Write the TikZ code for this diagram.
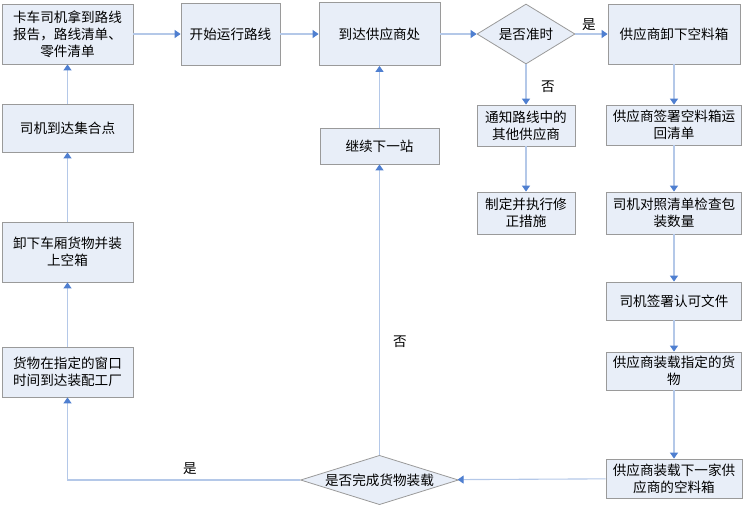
\documentclass[tikz,border=0pt]{standalone}
\usepackage{fontspec}
\setmainfont{Noto Sans CJK SC}
\usetikzlibrary{shapes.geometric, arrows.meta}
\definecolor{boxfill}{HTML}{E8EEF8}
\definecolor{boxline}{HTML}{9A9A9A}
\definecolor{flowline}{HTML}{B4C8E8}
\definecolor{tipblue}{HTML}{4F7FD0}

\begin{document}
\begin{tikzpicture}[
    x=1pt, y=-1pt,
    box/.style={rectangle, draw=boxline, fill=boxfill, align=center, inner sep=1pt, line width=0.8pt},
    decision/.style={diamond, draw=boxline, fill=boxfill, inner sep=1pt, line width=0.8pt},
    flow/.style={draw=flowline, line width=1.1pt, -{Triangle[width=8pt, length=6pt, color=tipblue]}},
    every node/.style={font=\fontsize{13.6}{17}\selectfont, text=black}
  ]
  \useasboundingbox (0,0) rectangle (744,507);

  % --- Left column ---
  \node[box, minimum width=131pt, minimum height=60pt] (truck) at (67.5,34) {卡车司机拿到路线\\报告，路线清单、\\零件清单};
  \node[box, minimum width=131pt, minimum height=48pt] (gather) at (67.5,128) {司机到达集合点};
  \node[box, minimum width=131pt, minimum height=60pt] (unloadtruck) at (67.5,252) {卸下车厢货物并装\\上空箱};
  \node[box, minimum width=131pt, minimum height=50pt] (factory) at (67.5,372) {货物在指定的窗口\\时间到达装配工厂};

  % --- Top row ---
  \node[box, minimum width=99pt, minimum height=62pt] (start) at (230.5,34) {开始运行路线};
  \node[box, minimum width=121pt, minimum height=63pt] (arrive) at (379.5,34) {到达供应商处};
  \node[decision, minimum width=98pt, minimum height=60pt, aspect=1.6] (ontime) at (526,34) {是否准时};

  % --- Middle column ---
  \node[box, minimum width=98pt, minimum height=41pt] (notify) at (526,125.5) {通知路线中的\\其他供应商};
  \node[box, minimum width=98pt, minimum height=42pt] (fix) at (526,213) {制定并执行修\\正措施};
  \node[box, minimum width=119pt, minimum height=36pt] (nextstop) at (379.5,146) {继续下一站};
  \node[decision, minimum width=157pt, minimum height=49pt, aspect=3.2] (done) at (379.5,480) {是否完成货物装载};

  % --- Right column ---
  \node[box, minimum width=132pt, minimum height=60pt] (unload) at (674,34) {供应商卸下空料箱};
  \node[box, minimum width=135pt, minimum height=40pt] (signlist) at (674,125) {供应商签署空料箱运\\回清单};
  \node[box, minimum width=135pt, minimum height=42pt] (check) at (674,213) {司机对照清单检查包\\装数量};
  \node[box, minimum width=135pt, minimum height=38pt] (approve) at (674,301) {司机签署认可文件};
  \node[box, minimum width=135pt, minimum height=38pt] (load) at (674,371) {供应商装载指定的货\\物};
  \node[box, minimum width=136pt, minimum height=39pt] (loadnext) at (674,478.5) {供应商装载下一家供\\应商的空料箱};

  % answers
  \node (yes1) at (589,25) {是};
  \node (no1) at (548,87) {否};
  \node (no2) at (400,342) {否};
  \node (yes2) at (190,469) {是};

  % --- Connectors ---
  \draw[flow] (truck) -- (start);
  \draw[flow] (start) -- (arrive);
  \draw[flow] (arrive) -- (ontime);
  \draw[flow] (ontime) -- (unload);
  \draw[flow] (ontime) -- (notify);
  \draw[flow] (notify) -- (fix);
  \draw[flow] (unload) -- (signlist);
  \draw[flow] (signlist) -- (check);
  \draw[flow] (check) -- (approve);
  \draw[flow] (approve) -- (load);
  \draw[flow] (load) -- (loadnext);
  \draw[flow] (loadnext) -- (done);
  \draw[flow] (done) -- (nextstop);
  \draw[flow] (nextstop) -- (arrive);
  \draw[flow] (done.west) -| (factory.south);
  \draw[flow] (factory) -- (unloadtruck);
  \draw[flow] (unloadtruck) -- (gather);
  \draw[flow] (gather) -- (truck);
\end{tikzpicture}
\end{document}
